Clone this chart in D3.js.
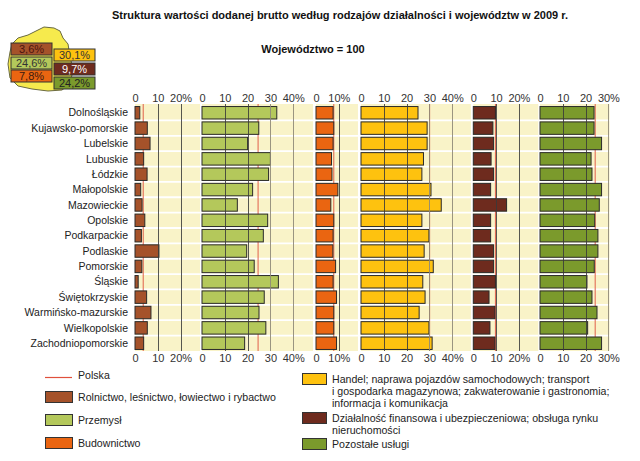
<!DOCTYPE html>
<html><head><meta charset="utf-8">
<script src="https://cdn.jsdelivr.net/npm/d3@7"></script>
<style>
body{margin:0;background:#fff;}
svg{display:block;font-family:"Liberation Sans",Arial,sans-serif;}
</style></head>
<body><svg id="c" width="640" height="461"></svg>
<script>
const regions = ["Dolnośląskie","Kujawsko-pomorskie","Lubelskie","Lubuskie","Łódzkie","Małopolskie","Mazowieckie","Opolskie","Podkarpackie","Podlaskie","Pomorskie","Śląskie","Świętokrzyskie","Warmińsko-mazurskie","Wielkopolskie","Zachodniopomorskie"];
const rolnictwo   = [2.1,5.4,6.6,3.8,5.3,2.5,3.1,4.3,2.8,10.5,3.0,1.4,5.1,7.0,5.4,3.8];
const przemysl    = [32.8,24.9,20.0,30.0,29.2,22.2,15.5,28.8,26.9,19.6,22.9,33.5,27.3,25.0,28.0,18.7];
const budownictwo = [7.5,7.8,7.5,6.8,7.0,9.6,6.5,7.8,7.5,7.4,8.6,7.5,9.0,7.8,7.8,9.0];
const handel      = [25.0,29.0,29.0,27.4,26.7,30.7,35.2,26.7,29.8,27.7,31.7,27.1,28.1,25.5,29.8,31.2];
const finanse     = [9.7,8.6,8.9,7.8,8.9,7.6,14.6,7.6,7.6,8.9,8.9,9.7,6.9,9.5,7.3,9.5];
const pozostale   = [23.7,23.7,27.0,22.4,22.8,27.0,26.0,24.0,25.4,25.4,23.8,20.6,22.8,25.0,20.9,27.0];
const polska      = [3.6,24.6,7.8,30.1,9.7,24.2];
const polskaLabels = ["3,6%","24,6%","7,8%","30,1%","9,7%","24,2%"];
const seriesNames = ["Rolnictwo, leśnictwo, łowiectwo i rybactwo","Przemysł","Budownictwo",
  "Handel; naprawa pojazdów samochodowych; transport|i gospodarka magazynowa; zakwaterowanie i gastronomia;|informacja i komunikacja",
  "Działalność finansowa i ubezpieczeniowa; obsługa rynku|nieruchomości","Pozostałe usługi"];
const tickSets = [[0,10,20],[0,10,20,30,40],[0,10],[0,10,20,30,40],[0,10,20],[0,10,20,30]];
const colors = ["#a5522a","#b4c85b","#ea6511","#fec20f","#6e2b1e","#7b9a2c"];

const svg = d3.select("#c");
const K = 2.28;
const panelX0 = [135,202,316,361,473.3,540];
const panelMax = [28.5,48.7,18.4,48.2,28.5,30.5];
const data = [rolnictwo,przemysl,budownictwo,handel,finanse,pozostale];

svg.append("text").attr("x",340).attr("y",19).attr("text-anchor","middle")
  .attr("font-size",11).attr("font-weight","bold").attr("fill","#111")
  .text("Struktura wartości dodanej brutto według rodzajów działalności i województw w 2009 r.");
svg.append("text").attr("x",313).attr("y",53).attr("text-anchor","middle")
  .attr("font-size",11).attr("font-weight","bold").attr("fill","#111")
  .text("Województwo = 100");

const y = d3.scaleBand().domain(regions).range([105,351]).paddingInner(0.19).paddingOuter(0.1);
const plotTop = 104, plotBottom = 351;

svg.append("g").selectAll("text").data(regions).join("text")
  .attr("x",128).attr("y",d=>y(d)+y.bandwidth()/2).attr("dy","0.35em")
  .attr("text-anchor","end").attr("font-size",10.5).attr("fill","#222").text(d=>d);

data.forEach((vals,i)=>{
  const x = d3.scaleLinear().domain([0,panelMax[i]]).range([panelX0[i],panelX0[i]+panelMax[i]*K]);
  const g = svg.append("g");
  g.append("rect").attr("x",x(0)).attr("y",plotTop).attr("width",x(panelMax[i])-x(0)).attr("height",plotBottom-plotTop).attr("fill","#f9f3c8");
  g.selectAll("line.sep").data(regions.slice(1)).join("line")
    .attr("x1",x(0)).attr("x2",x(panelMax[i]))
    .attr("y1",d=>y(d)-y.step()*y.paddingInner()/2).attr("y2",d=>y(d)-y.step()*y.paddingInner()/2)
    .attr("stroke","#fff").attr("stroke-width",1.8);
  g.append("line").attr("x1",x(polska[i])).attr("x2",x(polska[i])).attr("y1",plotTop).attr("y2",plotBottom)
    .attr("stroke","#e0604a").attr("stroke-width",1);
  g.selectAll("rect.bar").data(vals).join("rect")
    .attr("x",x(0)).attr("y",(d,j)=>y(regions[j])).attr("width",d=>x(d)-x(0)).attr("height",y.bandwidth())
    .attr("fill",colors[i]).attr("stroke","#2a2a2a").attr("stroke-width",1);
  g.selectAll("line.grid").data(tickSets[i].filter(t=>t>0)).join("line")
    .attr("x1",d=>Math.round(x(d))+0.5).attr("x2",d=>Math.round(x(d))+0.5).attr("y1",plotTop).attr("y2",plotBottom)
    .attr("stroke",d=>d>=30?"#8f8a78":"#3a3a3a").attr("stroke-width",1).attr("stroke-opacity",d=>d>=30?0.9:0.85);
  const last = tickSets[i][tickSets[i].length-1];
  const fmt = d=> d===last ? d+"%" : String(d);
  const axT = d3.axisTop(x).tickValues(tickSets[i]).tickSize(0).tickPadding(0).tickFormat(fmt);
  const axB = d3.axisBottom(x).tickValues(tickSets[i]).tickSize(0).tickPadding(0).tickFormat(fmt);
  const gt = svg.append("g").attr("transform","translate(0,102)").call(axT);
  const gb = svg.append("g").attr("transform","translate(0,352)").call(axB);
  [gt,gb].forEach(a=>{a.select(".domain").remove();
    a.selectAll("text").attr("font-size",11).attr("fill","#333").attr("font-family","Liberation Sans, Arial, sans-serif");});
  gb.selectAll("text").attr("dy","0.95em");
});

const mapPts = [[12,44],[18,38],[28,35],[36,31],[44,27],[54,28],[60,31],[63,38],[68,44],[70,56],[73,70],[70,84],[62,90],[48,91],[32,89],[18,86],[10,78],[8,64],[10,52]];
svg.append("path").attr("d",d3.line()(mapPts)+"Z").attr("fill","#f6ea4d").attr("stroke","#6a6a40").attr("stroke-width",1);
const boxes = [
  {x:11,y:43,i:0,tc:"#4a1410"},{x:11,y:57,i:1,tc:"#333"},{x:11,y:70,i:2,tc:"#3a1a10"},
  {x:54,y:49,i:3,tc:"#333"},{x:54,y:63,i:4,tc:"#fff"},{x:54,y:77,i:5,tc:"#222"}];
const bg = svg.append("g").selectAll("g").data(boxes).join("g");
bg.append("rect").attr("x",d=>d.x).attr("y",d=>d.y).attr("width",41).attr("height",12)
  .attr("fill",d=>colors[d.i]).attr("stroke","#333").attr("stroke-width",1);
bg.append("text").attr("x",d=>d.x+20.5).attr("y",d=>d.y+6).attr("dy","0.36em").attr("text-anchor","middle")
  .attr("font-size",11).attr("fill",d=>d.tc).text(d=>polskaLabels[d.i]);

const lg = svg.append("g");
lg.append("line").attr("x1",45).attr("x2",72).attr("y1",377.5).attr("y2",377.5).attr("stroke","#e0503c").attr("stroke-width",1.2);
lg.append("text").attr("x",78).attr("y",375).attr("dy","0.35em").attr("font-size",10.6).attr("fill","#222").text("Polska");
const leftLeg = [{i:0,y:391},{i:1,y:414},{i:2,y:437}];
leftLeg.forEach(d=>{
  lg.append("rect").attr("x",45.5).attr("y",d.y+0.5).attr("width",27).attr("height",11).attr("fill",colors[d.i]).attr("stroke","#333");
  lg.append("text").attr("x",78).attr("y",d.y+6).attr("dy","0.35em").attr("font-size",10.6).attr("fill","#222").text(seriesNames[d.i]);
});
const rightLeg = [{i:3,y:373,ty:379},{i:4,y:412,ty:418},{i:5,y:438,ty:444}];
rightLeg.forEach(d=>{
  lg.append("rect").attr("x",302.5).attr("y",d.y+0.5).attr("width",24).attr("height",11).attr("fill",colors[d.i]).attr("stroke","#333");
  seriesNames[d.i].split("|").forEach((ln,k)=>{
    lg.append("text").attr("x",332).attr("y",d.ty+k*12).attr("dy","0.35em").attr("font-size",10.6).attr("fill","#222").text(ln);
  });
});
</script></body></html>
